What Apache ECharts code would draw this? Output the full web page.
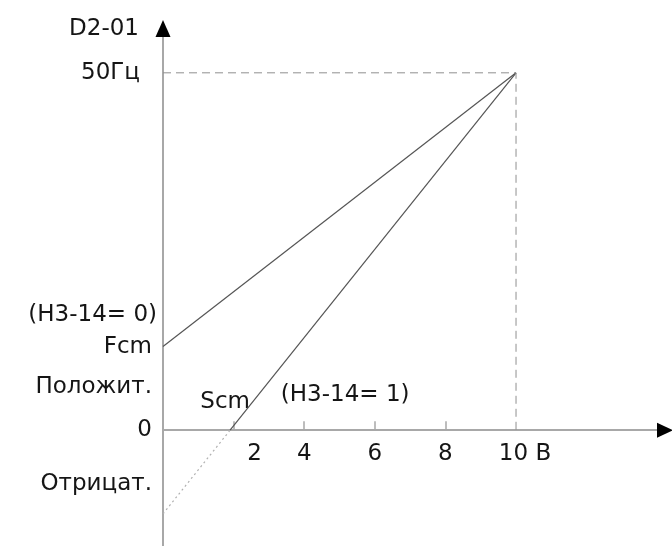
<!DOCTYPE html>
<html>
<head>
<meta charset="utf-8">
<script src="https://cdn.jsdelivr.net/npm/echarts@6/dist/echarts.min.js"></script>
<style>
  html, body { margin: 0; padding: 0; background: #fff; }
  #chart { width: 672px; height: 546px; }
</style>
</head>
<body>
<div id="chart"></div>
<script>
// axis ranges (volts on x, frequency on y)
const xRange = [0, 14.22];
const yRange = [-16.2, 56.2];

// H3-14 = 0 : offset line from Fcm to max point
const lineA_x = [0, 10];
const lineA_y = [11.7, 50];
// H3-14 = 1 : starts at Scm on x axis
const lineB_x = [1.9, 10];
const lineB_y = [0, 50];
// dotted extension of the H3-14=1 line into negative area
const ext_x = [0, 1.9];
const ext_y = [-11.7, 0];
// dashed guides to the 10 B / 50 Hz point
const guide_x = [0, 10, 10];
const guide_y = [50, 50, 0];

// x axis ticks and labels
const xTickValues = [2, 4, 6, 8];
const xLabelValues = [2, 4, 6, 8, 10];
const xLabelTexts = ['2', '4', '6', '8', '10 B'];

// y axis labels
const yLabelValues = [50, 16.1, 11.7, 6, 0, -7.6];
const yLabelTexts = ['50Гц', '(H3-14= 0)', 'Fcm', 'Положит.', '0', 'Отрицат.'];

// free text notes in the plot
const noteNames = ['Scm', '(H3-14= 1)'];
const noteX = [1.76, 5.16];
const noteY = [4.0, 4.9];

const zip = (xs, ys) => xs.map((x, i) => [x, ys[i]]);

const FONT = 'DejaVu Sans';
const FS = 23;
const TXT = '#151515';

let chart = echarts.init(document.getElementById('chart'));

let option = {
    animation: false,
    grid: [
        // main plot
        { left: 163, right: 7, top: 28.5, bottom: 0, containLabel: false, outerBoundsMode: 'none' },
        // strip whose bottom edge sits on the zero line, carries the x labels
        { left: 163, right: 7, top: 0, bottom: 116, containLabel: false, outerBoundsMode: 'none' }
    ],
    xAxis: [
        {
            type: 'value',
            gridIndex: 0,
            min: xRange[0],
            max: xRange[1],
            splitLine: { show: false },
            axisLine: { onZero: true, lineStyle: { color: '#a8a8a8', width: 2 } },
            axisTick: {
                show: true, inside: true, length: 9,
                customValues: xTickValues,
                lineStyle: { color: '#a8a8a8', width: 1.5 }
            },
            axisLabel: { show: false }
        },
        {
            // arrow head only
            type: 'value',
            gridIndex: 0,
            position: 'bottom',
            min: xRange[0],
            max: xRange[1],
            splitLine: { show: false },
            axisTick: { show: false },
            axisLabel: { show: false },
            axisLine: {
                onZero: true,
                symbol: ['none', 'triangle'],
                symbolSize: [15, 16],
                lineStyle: { color: '#000', opacity: 0 }
            }
        },
        {
            // tick labels under the zero line
            type: 'value',
            gridIndex: 1,
            min: xRange[0],
            max: xRange[1],
            splitLine: { show: false },
            axisTick: { show: false },
            axisLine: { show: false },
            axisLabel: {
                customValues: xLabelValues,
                margin: 13,
                formatter: (v) => {
                    const t = xLabelTexts[xLabelValues.indexOf(v)];
                    if (v === 2) return '{two|' + t + '}';
                    if (v === 10) return '{ten|' + t + '}';
                    return '{n|' + t + '}';
                },
                rich: {
                    n: { fontFamily: FONT, fontSize: FS, color: TXT },
                    two: { fontFamily: FONT, fontSize: FS, color: TXT, padding: [0, 0, 0, 42] },
                    ten: { fontFamily: FONT, fontSize: FS, color: TXT, padding: [0, 0, 0, 18] }
                }
            }
        }
    ],
    yAxis: [
        {
            type: 'value',
            gridIndex: 0,
            min: yRange[0],
            max: yRange[1],
            name: 'D2-01',
            nameLocation: 'end',
            nameGap: -1,
            nameTextStyle: {
                fontFamily: FONT, fontSize: FS, color: TXT,
                align: 'right', verticalAlign: 'middle',
                padding: [0, 24, 0, 0]
            },
            splitLine: { show: false },
            axisTick: { show: false },
            axisLine: { onZero: false, lineStyle: { color: '#a8a8a8', width: 2 } },
            axisLabel: {
                customValues: yLabelValues,
                margin: 6,
                formatter: (v) => {
                    const t = yLabelTexts[yLabelValues.indexOf(v)];
                    if (t === '50Гц') return '{far|' + t + '}';
                    if (t === '(H3-14= 0)') return '{n0|' + t + '}';
                    return '{n|' + t + '}';
                },
                rich: {
                    far: { fontFamily: FONT, fontSize: FS, color: TXT, padding: [0, 17, 0, 0] },
                    n0: { fontFamily: FONT, fontSize: FS, color: TXT, padding: [0, 0, 0, 0] },
                    n: { fontFamily: FONT, fontSize: FS, color: TXT, padding: [0, 5, 0, 0] }
                }
            }
        },
        {
            // arrow head only
            type: 'value',
            gridIndex: 0,
            position: 'left',
            min: yRange[0],
            max: yRange[1],
            splitLine: { show: false },
            axisTick: { show: false },
            axisLabel: { show: false },
            axisLine: {
                onZero: false,
                symbol: ['none', 'triangle'],
                symbolSize: [15, 17],
                lineStyle: { color: '#000', opacity: 0 }
            }
        },
        {
            type: 'value',
            gridIndex: 1,
            show: false
        }
    ],
    series: [
        {
            name: 'H3-14=0',
            type: 'line',
            data: zip(lineA_x, lineA_y),
            symbol: 'none',
            lineStyle: { color: '#555', width: 1.2 }
        },
        {
            name: 'H3-14=1',
            type: 'line',
            data: zip(lineB_x, lineB_y),
            symbol: 'none',
            lineStyle: { color: '#555', width: 1.2 }
        },
        {
            name: 'extension',
            type: 'line',
            data: zip(ext_x, ext_y),
            symbol: 'none',
            lineStyle: { color: '#b0b0b0', width: 1.2, type: [2, 3] }
        },
        {
            name: 'guides',
            type: 'line',
            data: zip(guide_x, guide_y),
            symbol: 'none',
            lineStyle: { color: '#8f8f8f', width: 1, type: [8, 5] }
        },
        {
            name: 'notes',
            type: 'scatter',
            symbolSize: 0,
            itemStyle: { opacity: 1 },
            data: noteNames.map((n, i) => ({ name: n, value: [noteX[i], noteY[i]] })),
            label: {
                show: true,
                position: 'inside',
                formatter: '{b}',
                opacity: 1,
                fontFamily: FONT, fontSize: FS, color: TXT
            }
        }
    ]
};

chart.setOption(option);
</script>
</body>
</html>
